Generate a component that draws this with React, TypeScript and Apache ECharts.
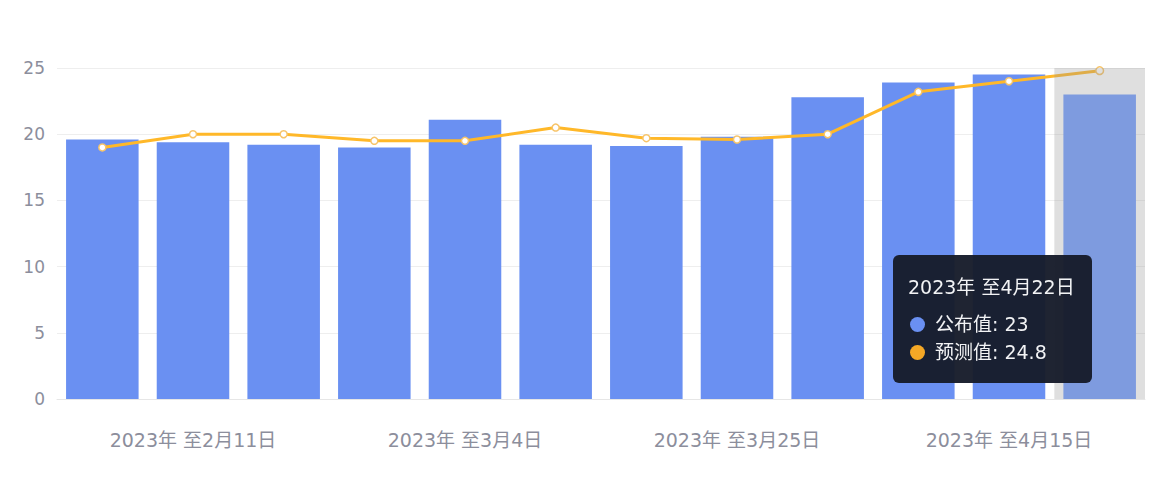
import React, { useEffect, useRef } from 'react';
import * as echarts from 'echarts';

const categories: string[] = [
  '2023年 至2月4日',
  '2023年 至2月11日',
  '2023年 至2月18日',
  '2023年 至2月25日',
  '2023年 至3月4日',
  '2023年 至3月11日',
  '2023年 至3月18日',
  '2023年 至3月25日',
  '2023年 至4月1日',
  '2023年 至4月8日',
  '2023年 至4月15日',
  '2023年 至4月22日',
];
const publishedValues: number[] = [19.6, 19.4, 19.2, 19.0, 21.1, 19.2, 19.1, 19.8, 22.8, 23.9, 24.5, 23];
const forecastValues: number[] = [19.0, 20.0, 20.0, 19.5, 19.5, 20.5, 19.7, 19.6, 20.0, 23.2, 24.0, 24.8];

const BAR_COLOR = '#6a90f2';
const LINE_COLOR = '#f5a826';
const SERIES_COLORS = [BAR_COLOR, LINE_COLOR];
// latin glyphs from DejaVu (wide digits), CJK from Noto
const FONT = '"DejaVu Sans", "Noto Sans CJK SC", sans-serif';

const App: React.FC = () => {
  const chartRef = useRef<HTMLDivElement | null>(null);

  useEffect(() => {
    if (!chartRef.current) return;
    const chart = echarts.init(chartRef.current, null, { renderer: 'svg' });

    const option = {
      animation: false,
      textStyle: { fontFamily: FONT },
      grid: { left: 49, right: 17, top: 60, bottom: 70 },
      tooltip: {
        trigger: 'axis',
        alwaysShowContent: true,
        triggerOn: 'none',
        transitionDuration: 0,
        axisPointer: {
          type: 'shadow',
          shadowStyle: { color: 'rgba(150,150,150,0.3)' },
        },
        position: [885, 247],
        backgroundColor: 'rgba(22,27,42,0.96)',
        borderWidth: 0,
        padding: 0,
        extraCssText: 'border-radius:6px;box-shadow:none;',
        formatter: (params: any[]) => {
          const title = params[0].axisValue;
          const rows = params
            .map(
              (p) =>
                `<div style="display:flex;align-items:center;height:28px;">` +
                `<span style="display:inline-block;width:15px;height:15px;border-radius:8px;background:${SERIES_COLORS[p.seriesIndex]};margin-right:10px;margin-left:2px;"></span>` +
                `<span>${p.seriesName}: ${p.value}</span></div>`,
            )
            .join('');
          return (
            `<div style="font-family:${FONT.replace(/"/g, "'")};color:#f2f3f5;font-size:19px;padding:20px 15px 17px 15px;width:169px;box-sizing:content-box;">` +
            `<div style="height:24px;line-height:24px;margin-bottom:11px;white-space:nowrap;">${title}</div>` +
            rows +
            `</div>`
          );
        },
      },
      xAxis: {
        type: 'category',
        data: categories,
        axisLine: { lineStyle: { color: '#e6e6e6' } },
        axisTick: { show: false },
        axisLabel: {
          interval: (index: number) => index % 3 === 1,
          color: '#8c8e9c',
          fontSize: 19,
          margin: 31,
        },
      },
      yAxis: {
        type: 'value',
        min: 0,
        max: 25,
        interval: 5,
        axisLabel: { color: '#8c8e9c', fontSize: 17, margin: 12 },
        splitLine: { lineStyle: { color: '#eeeeee' } },
      },
      series: [
        {
          name: '公布值',
          type: 'bar',
          data: publishedValues,
          barCategoryGap: '20%',
          itemStyle: { color: BAR_COLOR },
        },
        {
          name: '预测值',
          type: 'line',
          data: forecastValues,
          symbol: 'circle',
          symbolSize: 7,
          lineStyle: { color: LINE_COLOR, width: 3 },
          itemStyle: { color: '#ffffff', borderColor: '#f7c469', borderWidth: 1.5 },
        },
      ],
    };

    chart.setOption(option);
    chart.dispatchAction({ type: 'showTip', seriesIndex: 0, dataIndex: 11 });

    const handleResize = () => chart.resize();
    window.addEventListener('resize', handleResize);
    return () => {
      window.removeEventListener('resize', handleResize);
      chart.dispose();
    };
  }, []);

  return <div ref={chartRef} style={{ width: '100%', height: '461px' }} />;
};

export default App;
